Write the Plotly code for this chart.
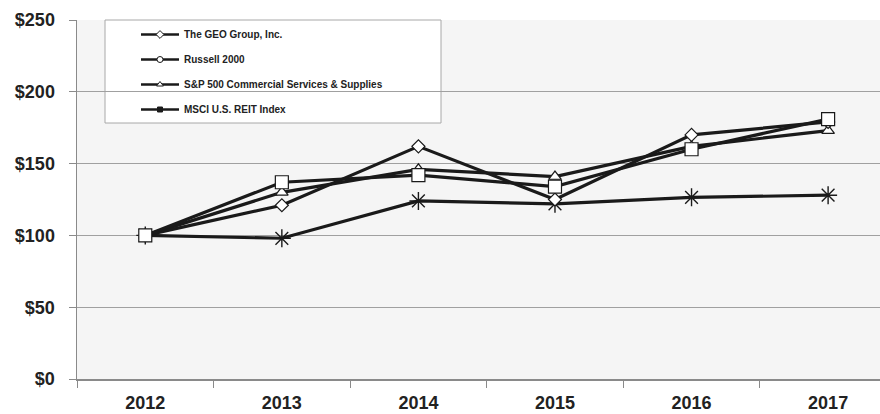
import plotly.graph_objects as go

years = ["2012", "2013", "2014", "2015", "2016", "2017"]
geo = [100, 121, 162, 125, 170, 179]
russell = [100, 137, 142, 134, 160, 181]
sp500 = [100, 130, 146, 141, 162, 173]
msci = [100, 98, 124, 122, 126.5, 128]
y_ticks = [0, 50, 100, 150, 200, 250]
y_tick_labels = ["$0", "$50", "$100", "$150", "$200", "$250"]
names = ["The GEO Group, Inc.", "Russell 2000",
         "S&P 500 Commercial Services & Supplies", "MSCI U.S. REIT Index"]

W, H = 880, 414
ML, MR, MT, MB = 77, 0, 20, 35
pw = W - ML - MR
ph = H - MT - MB

LINE = "#1a1a1a"
FONT = "Liberation Sans, Arial, sans-serif"

fig = go.Figure()

# draw order: MSCI, S&P, GEO, Russell (squares on top)
series = [
    (msci, dict(symbol="asterisk-open", size=15, color=LINE, line=dict(color=LINE, width=1.4))),
    (sp500, dict(symbol="triangle-up", size=11, color="white", line=dict(color=LINE, width=1.2))),
    (geo, dict(symbol="diamond", size=10, color="white", line=dict(color=LINE, width=1.2))),
    (russell, dict(symbol="square", size=13, color="white", line=dict(color=LINE, width=1.2))),
]
for vals, mk in series:
    fig.add_trace(go.Scatter(
        x=years, y=vals, mode="lines+markers",
        line=dict(color=LINE, width=3.2), marker=mk,
        showlegend=False, hoverinfo="skip", cliponaxis=False))

# legend entries (legend glyphs as in the reference)
leg_markers = [
    dict(symbol="diamond", size=6, color="white", line=dict(color=LINE, width=1)),
    dict(symbol="circle", size=6, color="white", line=dict(color=LINE, width=1)),
    dict(symbol="triangle-up", size=6, color="white", line=dict(color=LINE, width=1)),
    dict(symbol="square", size=5, color=LINE, line=dict(color=LINE, width=1)),
]
for i, (nm, mk) in enumerate(zip(names, leg_markers)):
    fig.add_trace(go.Scatter(
        x=[None], y=[None], mode="lines+markers", name=nm,
        line=dict(color=LINE, width=2.5), marker=mk,
        legendgroup=f"g{i}", showlegend=True))

# legend box
bx0, bx1, by0, by1 = 105, 441, 20, 123
fig.add_shape(type="rect", xref="paper", yref="paper",
              x0=(bx0 - ML) / pw, x1=(bx1 - ML) / pw,
              y0=1 - (by1 - MT) / ph, y1=1 - (by0 - MT) / ph,
              fillcolor="white", line=dict(color="#a8a8a8", width=1),
              layer="between")

fig.update_layout(
    width=W, height=H,
    margin=dict(l=ML, r=MR, t=MT, b=MB, pad=0, autoexpand=False),
    paper_bgcolor="white",
    plot_bgcolor="#f5f5f5",
    font=dict(family=FONT, color="#222222"),
    showlegend=True,
    legend=dict(
        x=(136 - ML) / pw, xanchor="left",
        y=1 - (20 - MT) / ph, yanchor="top",
        bgcolor="rgba(0,0,0,0)", borderwidth=0,
        font=dict(family=FONT, size=10, color="#222222", weight="bold"),
        traceorder="grouped", tracegroupgap=6,
        itemwidth=38,
    ),
    xaxis=dict(
        type="category", range=[-0.5, 5.38],
        tickson="boundaries", ticks="outside", ticklen=7,
        tickcolor="#8a8a8a", tickwidth=1,
        showline=True, linecolor="#8a8a8a", linewidth=1.5,
        showgrid=False, zeroline=False, automargin=False,
        tickfont=dict(family=FONT, size=18, color="#222222", weight="bold"),
        ticklabelstandoff=7,
    ),
    yaxis=dict(
        range=[0, 250], tickvals=y_ticks, ticktext=y_tick_labels,
        ticks="outside", ticklen=7, tickcolor="#8a8a8a", tickwidth=1,
        showline=True, linecolor="#8a8a8a", linewidth=1.5,
        showgrid=True, gridcolor="#a0a0a0", gridwidth=1,
        zeroline=False, automargin=False,
        tickfont=dict(family=FONT, size=18, color="#222222", weight="bold"),
        ticklabelstandoff=10,
    ),
)

fig.write_html(
    "out.html",
    config={"displayModeBar": False, "staticPlot": True},
    post_script="document.body.style.margin='0';document.body.style.overflow='hidden';",
)
